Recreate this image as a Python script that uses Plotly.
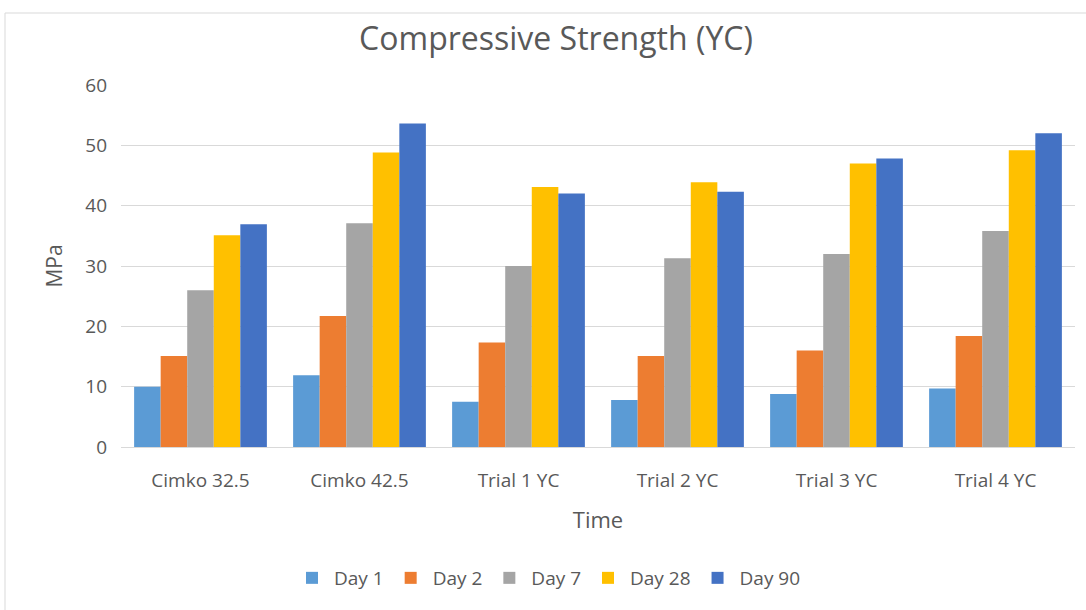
import plotly.graph_objects as go

categories = ["Cimko 32.5", "Cimko 42.5", "Trial 1 YC", "Trial 2 YC", "Trial 3 YC", "Trial 4 YC"]
series_names = ["Day 1", "Day 2", "Day 7", "Day 28", "Day 90"]
day1 = [10.0, 11.9, 7.5, 7.8, 8.8, 9.7]
day2 = [15.1, 21.7, 17.3, 15.1, 16.0, 18.4]
day7 = [26.0, 37.1, 30.0, 31.3, 32.0, 35.8]
day28 = [35.1, 48.8, 43.1, 43.9, 47.0, 49.2]
day90 = [36.9, 53.6, 42.0, 42.3, 47.8, 52.0]
colors = ["#5B9BD5", "#ED7D31", "#A5A5A5", "#FFC000", "#4472C4"]

W, H = 1086, 610
L, R, T, B = 121, 11, 85, 163
pw, ph = W - L - R, H - T - B

fig = go.Figure()
for name, vals, c in zip(series_names, [day1, day2, day7, day28, day90], colors):
    fig.add_trace(go.Bar(name=name, x=categories, y=vals, marker=dict(color=c, line=dict(width=0))))

font = "Open Sans, Liberation Sans, sans-serif"
txt = "#595959"
fig.update_layout(
    width=W, height=H,
    margin=dict(l=L, r=R, t=T, b=B, autoexpand=False),
    paper_bgcolor="white", plot_bgcolor="white",
    barmode="group", bargap=0.165, bargroupgap=0,
    font=dict(family=font, color=txt, size=19),
    title=dict(text="Compressive Strength (YC)", x=556 / W, xanchor="center",
               y=1 - 39 / H, yanchor="middle", font=dict(size=32, color=txt)),
    xaxis=dict(showgrid=False, showline=True, linecolor="#d9d9d9", linewidth=1,
               ticks="", tickfont=dict(size=19, color=txt), ticklabelstandoff=16,
               title=dict(text="Time", font=dict(size=22, color=txt), standoff=20)),
    yaxis=dict(range=[0, 60], dtick=10, showgrid=True, gridcolor="#d9d9d9", gridwidth=1,
               zeroline=False, showline=False, ticks="", tickfont=dict(size=19, color=txt),
               ticklabelstandoff=13,
               title=dict(text="MPa", font=dict(size=21, color=txt), standoff=16)),
    legend=dict(orientation="h", x=(548 - L) / pw, xanchor="center",
                y=(T + ph - 578) / ph, yanchor="middle",
                font=dict(size=19, color=txt), itemwidth=34, traceorder="normal"),
    showlegend=True,
)
fig.add_shape(type="rect", xref="paper", yref="paper",
              x0=(5 - L) / pw, x1=(1095 - L) / pw,
              y0=(T + ph - 620) / ph, y1=(T + ph - 13) / ph,
              line=dict(color="#d9d9d9", width=1), fillcolor="rgba(0,0,0,0)", layer="below")
fig.write_html("out.html", post_script="document.body.style.margin='0';",
               config={"displayModeBar": False})
